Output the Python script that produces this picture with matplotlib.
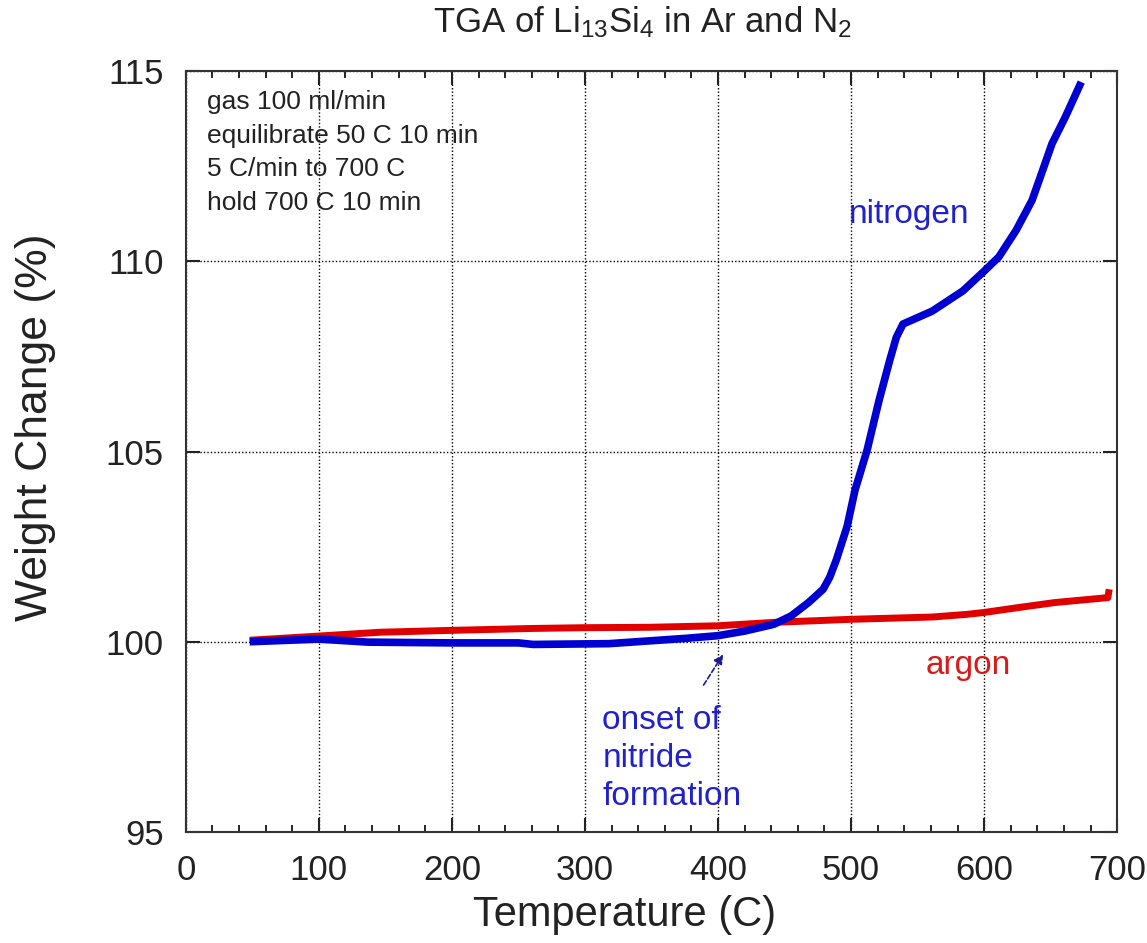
import matplotlib
matplotlib.use("Agg")
import matplotlib.pyplot as plt
from matplotlib.ticker import MultipleLocator

# nitrogen run (temperature C, weight %)
nitrogen_temp = [48, 100, 137, 200, 250, 261, 318, 347, 376, 400, 420, 442, 455,
                 468, 479, 484, 489, 497, 503, 512, 521, 529, 534, 539, 550, 561,
                 584, 600, 611, 624, 636, 644, 651, 661, 673]
nitrogen_wt = [100.0, 100.07, 99.99, 99.97, 99.97, 99.93, 99.95, 100.02, 100.09,
               100.16, 100.28, 100.46, 100.68, 101.03, 101.38, 101.70, 102.16,
               103.03, 103.99, 105.03, 106.34, 107.39, 108.0, 108.35, 108.52,
               108.69, 109.22, 109.74, 110.11, 110.81, 111.6, 112.39, 113.09,
               113.79, 114.71]

# argon run
argon_temp = [48, 100, 146, 200, 261, 300, 348, 400, 442, 500, 561, 587, 600,
              626, 653, 693, 694]
argon_wt = [100.04, 100.15, 100.25, 100.30, 100.35, 100.37, 100.38, 100.42,
            100.51, 100.59, 100.65, 100.72, 100.77, 100.90, 101.03, 101.16, 101.38]

conditions = ["gas 100 ml/min", "equilibrate 50 C 10 min",
              "5 C/min to 700 C", "hold 700 C 10 min"]

plt.rcParams['font.family'] = ['Liberation Sans', 'DejaVu Sans']
plt.rcParams['mathtext.default'] = 'regular'

fig = plt.figure(figsize=(11.47, 9.43), dpi=100)
ax = fig.add_axes([0.162, 0.1177, 0.812, 0.807])

ax.plot(argon_temp, argon_wt, color='#e00000', lw=5, solid_capstyle='butt', zorder=3)
ax.plot(nitrogen_temp, nitrogen_wt, color='#0000d0', lw=5.5, solid_capstyle='butt', zorder=4)

ax.set_xlim(0, 700)
ax.set_ylim(95, 115)
ax.xaxis.set_major_locator(MultipleLocator(100))
ax.xaxis.set_minor_locator(MultipleLocator(20))
ax.yaxis.set_major_locator(MultipleLocator(5))

ax.grid(which='major', color='black', linestyle=(0, (1, 1.5)), linewidth=1.0)
ax.tick_params(which='major', direction='in', length=10, width=1.5,
               top=True, right=True, labelsize=25, pad=16, colors='#222222')
ax.tick_params(which='minor', direction='in', length=5, width=1.2,
               top=True, right=False, left=False)
for s in ax.spines.values():
    s.set_linewidth(1.5)
    s.set_color('#333333')

ax.set_xlabel("Temperature (C)", fontsize=30, color='#222222')
ax.xaxis.set_label_coords(0.4715, -0.083)
ax.set_ylabel("Weight Change (%)", fontsize=32, color='#222222')
ax.yaxis.set_label_coords(-0.139, 0.532)
ax.set_title("TGA of Li$_{13}$Si$_{4}$ in Ar and N$_{2}$", fontsize=25, pad=28,
             color='#222222', x=0.49)

ax.text(16, 114.5, "\n".join(conditions), fontsize=19, va='top', ha='left',
        linespacing=1.5, color='#222222')
ax.text(498.5, 111.0, "nitrogen", fontsize=24, color='#2020cc', va='baseline')
ax.text(556, 99.15, "argon", fontsize=24, color='#d81a1a', va='baseline')
ax.text(313, 98.35, "onset of\nnitride\nformation", fontsize=24, color='#2020cc',
        va='top', ha='left', linespacing=1.3)
ax.annotate("", xy=(405, 99.73), xytext=(388, 98.8),
            arrowprops=dict(arrowstyle='-|>', color='#1a1a99', lw=1.2,
                            linestyle=(0, (3, 1.5)), mutation_scale=14))

fig.savefig("out.png", dpi=100)
